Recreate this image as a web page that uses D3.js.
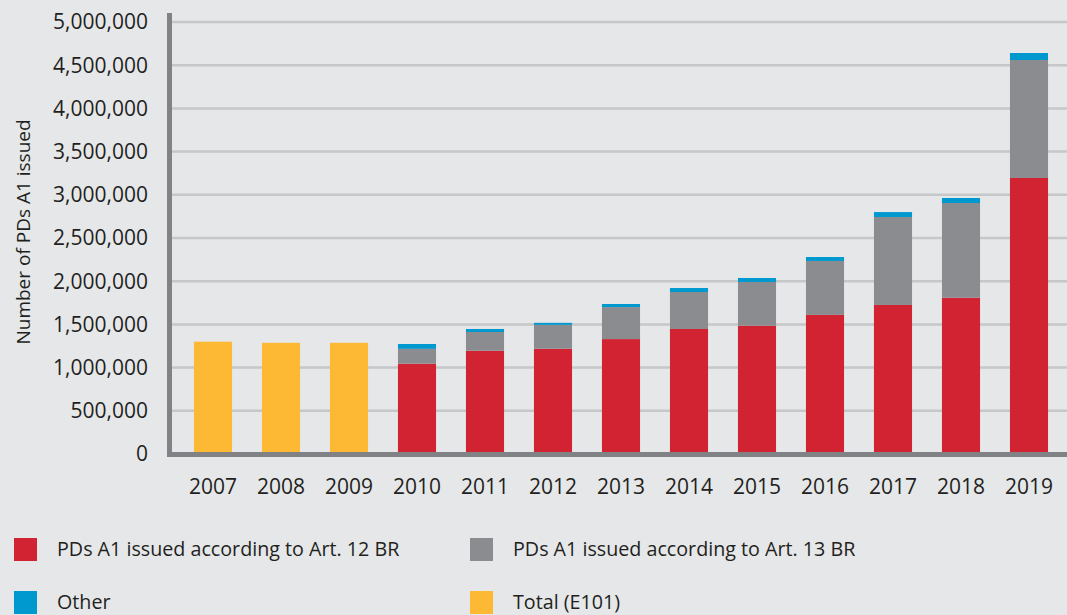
<!DOCTYPE html>
<html>
<head>
<meta charset="utf-8">
<script src="https://cdn.jsdelivr.net/npm/d3@7"></script>
<style>
  body { margin: 0; background: #e6e7e9; }
  svg { display: block; font-family: "Open Sans", sans-serif; }
  .tick-label { font-size: 21px; fill: #231f20; }
  .legend-text { font-size: 19.7px; fill: #231f20; }
</style>
</head>
<body>
<div id="chart"></div>
<script>
// years on the x axis
var years = ["2007", "2008", "2009", "2010", "2011", "2012", "2013",
             "2014", "2015", "2016", "2017", "2018", "2019"];

// Total (E101), only the first three years
var totalE101 = [1300000, 1287000, 1287000, 0, 0, 0, 0, 0, 0, 0, 0, 0, 0];

// PDs A1 by article, plus other
var art12 = [0, 0, 0, 1045000, 1195000, 1218000, 1330000, 1447000, 1485000, 1610000, 1725000, 1808000, 3195000];
var art13 = [0, 0, 0, 172000, 217000, 277000, 370000, 428000, 506000, 624000, 1018000, 1097000, 1365000];
var other = [0, 0, 0, 56000, 35000, 23000, 36000, 46000, 46000, 46000, 57000, 58000, 81000];

var yTicks = [0, 500000, 1000000, 1500000, 2000000, 2500000, 3000000, 3500000, 4000000, 4500000, 5000000];

var seriesNames = ["PDs A1 issued according to Art. 12 BR", "PDs A1 issued according to Art. 13 BR", "Other", "Total (E101)"];
var seriesColors = ["#d12331", "#8b8c90", "#0099cf", "#fdb933"];

var svgWidth = 1067;
var svgHeight = 615;

var svg = d3.select("#chart")
    .append("svg")
    .attr("width", svgWidth)
    .attr("height", svgHeight);

svg.append("rect")
    .attr("width", svgWidth)
    .attr("height", svgHeight)
    .attr("fill", "#e6e7e9");

// build stack table
var table = years.map(function(y, i) {
    return { year: y, art12: art12[i], art13: art13[i], other: other[i], total: totalE101[i] };
});
var keys = ["art12", "art13", "other", "total"];
var stacked = d3.stack().keys(keys)(table);

var xScale = d3.scaleBand()
    .domain(years)
    .range([179, 1063])
    .paddingInner(0.44)
    .paddingOuter(0.22);

var yScale = d3.scaleLinear()
    .domain([0, 5000000])
    .range([454, 22]);

// gridlines
svg.append("g")
    .selectAll("line")
    .data(yTicks.slice(1))
    .enter()
    .append("line")
    .attr("x1", 169)
    .attr("x2", svgWidth)
    .attr("y1", d => yScale(d))
    .attr("y2", d => yScale(d))
    .attr("stroke", "#c6c7c9")
    .attr("stroke-width", 2.5);

// bars
svg.append("g")
    .selectAll("g")
    .data(stacked)
    .enter()
    .append("g")
    .attr("fill", (d, i) => seriesColors[i])
    .selectAll("rect")
    .data(d => d.filter(p => p[1] - p[0] > 0))
    .enter()
    .append("rect")
    .attr("x", d => xScale(d.data.year))
    .attr("width", xScale.bandwidth())
    .attr("y", d => yScale(d[1]))
    .attr("height", d => yScale(d[0]) - yScale(d[1]));

// axis lines
svg.append("line")
    .attr("x1", 169.5).attr("x2", 169.5)
    .attr("y1", 13).attr("y2", 457)
    .attr("stroke", "#808285")
    .attr("stroke-width", 5);

svg.append("line")
    .attr("x1", 167).attr("x2", svgWidth)
    .attr("y1", 454.5).attr("y2", 454.5)
    .attr("stroke", "#808285")
    .attr("stroke-width", 5);

// y tick labels
svg.append("g")
    .selectAll("text")
    .data(yTicks)
    .enter()
    .append("text")
    .attr("class", "tick-label")
    .attr("x", 148)
    .attr("y", d => yScale(d))
    .attr("dy", "0.35em")
    .attr("text-anchor", "end")
    .text(d => d3.format(",")(d));

// x tick labels
svg.append("g")
    .selectAll("text")
    .data(years)
    .enter()
    .append("text")
    .attr("class", "tick-label")
    .attr("x", d => xScale(d) + xScale.bandwidth() / 2)
    .attr("y", 494)
    .attr("text-anchor", "middle")
    .text(d => d);

// y axis title
svg.append("text")
    .attr("class", "tick-label")
    .attr("transform", "translate(30, 232) rotate(-90)")
    .attr("text-anchor", "middle")
    .style("font-size", "19px")
    .text("Number of PDs A1 issued");

// legend
var legendPos = [[14, 538], [470, 538], [14, 591], [470, 591]];
var legendOrder = [0, 1, 2, 3];

var legend = svg.append("g")
    .selectAll("g")
    .data(legendOrder)
    .enter()
    .append("g")
    .attr("transform", (d, i) => `translate(${legendPos[i][0]}, ${legendPos[i][1]})`);

legend.append("rect")
    .attr("width", 23)
    .attr("height", 23)
    .attr("fill", d => seriesColors[d]);

legend.append("text")
    .attr("class", "legend-text")
    .attr("x", 43)
    .attr("y", 18)
    .text(d => seriesNames[d]);
</script>
</body>
</html>
